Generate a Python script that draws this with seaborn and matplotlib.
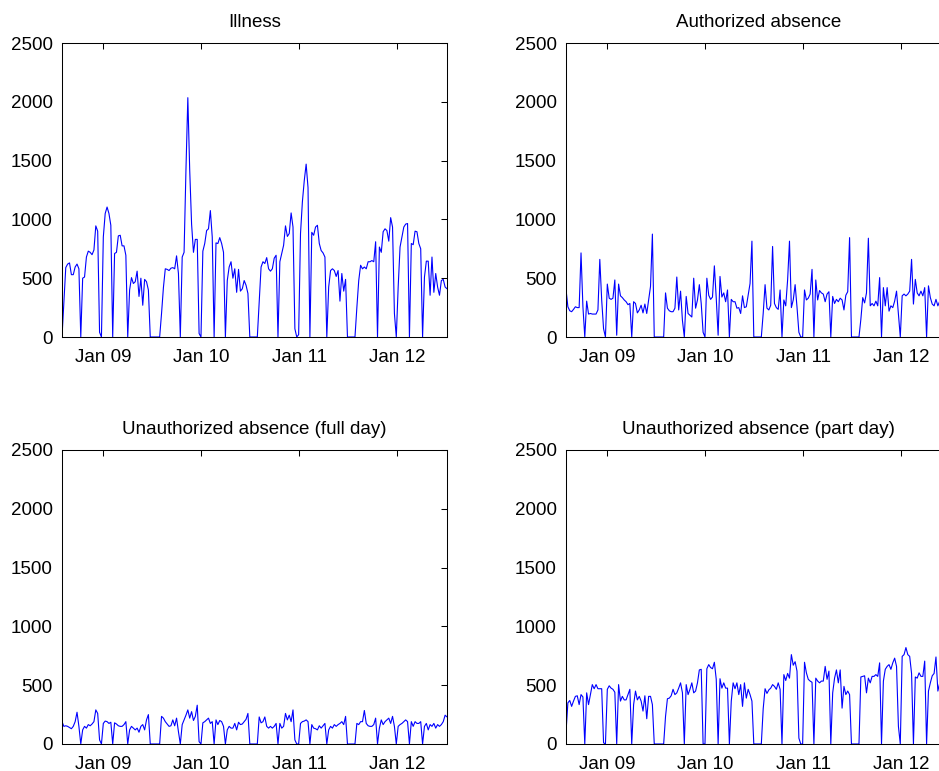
import matplotlib
matplotlib.use("Agg")
import matplotlib.pyplot as plt
import matplotlib.dates as mdates
import pandas as pd
import seaborn as sns

# ---------------- data (weekly totals) ----------------
start_date = "2008-07-31"
n_weeks = 206

titles = ["Illness", "Authorized absence",
          "Unauthorized absence (full day)", "Unauthorized absence (part day)"]
y_ticks = [0, 500, 1000, 1500, 2000, 2500]
x_tick_years = [2009, 2010, 2011, 2012]

illness = [
    0, 300, 590, 620, 630, 530, 530, 595, 620, 580, 0,
    500, 510, 680, 730, 720, 700, 740, 945, 900, 40, 0,
    850, 1050, 1105, 1050, 950, 0,
    710, 720, 860, 865, 775, 775, 695, 0,
    400, 505, 455, 470, 560, 345, 500, 270, 490, 470, 400, 0,
    0, 0, 0, 0, 0,
    200, 420, 580, 575, 565, 585, 590, 580, 690, 540, 0,
    680, 720, 1420, 2035, 1420, 960, 720, 830, 830, 30, 0,
    730, 795, 905, 920, 1075, 850, 0,
    800, 795, 845, 795, 720, 0,
    480, 595, 640, 500, 580, 380, 575, 390, 410, 480, 440, 370, 0,
    0, 0, 0, 0,
    300, 595, 640, 625, 675, 580, 560, 580, 670, 695, 0,
    640, 710, 780, 945, 855, 880, 1055, 935, 70, 0, 20,
    880, 1150, 1330, 1470, 1270, 0,
    890, 865, 935, 950, 795, 735, 715, 680, 0,
    425, 565, 580, 565, 515, 565, 305, 540, 390, 490, 0,
    0, 0, 0, 0,
    250, 480, 610, 580, 595, 580, 640, 640, 650, 640, 810, 0,
    765, 720, 895, 920, 905, 815, 1015, 935, 200, 0,
    425, 765, 850, 935, 960, 965, 0,
    795, 785, 900, 895, 795, 750, 0,
    510, 645, 645, 355, 680, 380, 540, 425, 355, 480, 490, 425, 410,
]

authorized = [
    405, 257, 223, 215, 235, 257, 250, 250, 715, 260, 0,
    305, 195, 200, 195, 195, 195, 230, 660, 315, 70, 0,
    450, 330, 320, 330, 485, 15,
    450, 350, 335, 315, 300, 275, 285, 0,
    300, 285, 205, 230, 270, 205, 280, 200, 315, 430, 875, 0,
    0, 0, 0, 0, 0,
    375, 245, 223, 215, 215, 245, 510, 230, 390, 140, 0,
    345, 200, 185, 170, 500, 245, 315, 445, 285, 40, 0,
    500, 355, 320, 340, 605, 330, 15,
    515, 340, 375, 300, 400, 0,
    320, 300, 300, 245, 250, 200, 350, 250, 257, 355, 455, 815, 0,
    0, 0, 0, 0,
    200, 445, 245, 230, 270, 770, 285, 250, 235, 400, 0,
    315, 265, 485, 815, 250, 315, 445, 255, 40, 0, 0,
    400, 315, 330, 365, 575, 0,
    485, 315, 395, 375, 365, 300, 365, 385, 0,
    345, 285, 320, 300, 330, 315, 230, 355, 385, 845, 0,
    0, 0, 0, 0,
    150, 335, 290, 375, 840, 265, 285, 265, 305, 265, 505, 0,
    420, 265, 420, 220, 265, 250, 305, 390, 200, 0,
    350, 365, 350, 365, 390, 660, 280,
    490, 375, 350, 390, 350, 420, 0,
    435, 335, 280, 265, 320, 265, 305, 300, 350, 300, 330, 290, 310,
]

unauth_full = [
    190, 150, 155, 150, 140, 130, 150, 190, 270, 150, 0,
    120, 150, 135, 165, 155, 170, 190, 290, 260, 35, 0,
    175, 195, 190, 175, 185, 0,
    180, 170, 155, 150, 150, 165, 190, 0,
    120, 150, 135, 120, 135, 100, 150, 165, 120, 205, 250, 0,
    0, 0, 0, 0, 0,
    235, 220, 190, 170, 150, 155, 205, 155, 220, 105, 0,
    165, 205, 245, 290, 220, 275, 200, 235, 330, 20, 0,
    180, 190, 205, 220, 175, 190, 0,
    205, 165, 200, 190, 150, 0,
    120, 150, 135, 135, 175, 120, 185, 165, 170, 190, 210, 260, 0,
    0, 0, 0, 0,
    230, 180, 190, 230, 150, 135, 150, 135, 150, 175, 0,
    175, 135, 150, 260, 205, 245, 190, 290, 35, 0, 0,
    175, 190, 195, 205, 190, 0,
    165, 135, 130, 120, 155, 135, 155, 175, 0,
    120, 150, 135, 165, 150, 165, 175, 190, 165, 235, 0,
    0, 0, 0, 0,
    175, 165, 190, 190, 285, 175, 155, 150, 150, 165, 220, 0,
    135, 205, 165, 190, 205, 220, 175, 235, 150, 0,
    150, 165, 175, 190, 205, 190, 0,
    190, 150, 190, 175, 175, 190, 0,
    150, 175, 120, 165, 150, 175, 135, 165, 150, 165, 190, 245, 230,
]

unauth_part = [
    100, 350, 370, 320, 365, 405, 410, 335, 420, 400, 0,
    435, 335, 420, 505, 470, 505, 470, 470, 470, 10, 0,
    465, 495, 475, 465, 440, 0,
    505, 365, 405, 375, 375, 420, 465, 0,
    335, 450, 375, 405, 365, 280, 410, 215, 405, 405, 335, 0,
    0, 0, 0, 0, 0,
    235, 385, 390, 410, 465, 420, 435, 475, 520, 435, 0,
    505, 420, 465, 520, 435, 450, 520, 630, 635, 0, 0,
    640, 675, 650, 640, 695, 550, 0,
    555, 475, 520, 475, 475, 0,
    365, 520, 470, 520, 420, 505, 320, 520, 390, 465, 420, 365, 0,
    0, 0, 0, 0,
    300, 470, 430, 460, 475, 505, 490, 465, 520, 465, 0,
    590, 540, 600, 560, 760, 670, 700, 620, 50, 0, 0,
    695, 605, 550, 535, 525, 0,
    560, 535, 520, 535, 535, 660, 550, 620, 0,
    435, 560, 630, 520, 630, 305, 490, 420, 450, 420, 0,
    0, 0, 0, 0,
    570, 575, 580, 435, 560, 520, 575, 575, 590, 575, 690, 0,
    535, 635, 660, 675, 635, 690, 730, 660, 150, 0,
    745, 760, 820, 760, 745, 600, 0,
    570, 560, 605, 575, 575, 705, 0,
    450, 520, 580, 600, 740, 450, 520, 560, 480, 600, 540, 470, 500,
]

series = [illness, authorized, unauth_full, unauth_part]

# ---------------- figure ----------------
sns.set_theme(style="white")
plt.rcParams["font.family"] = ["Liberation Sans", "DejaVu Sans"]

W, H = 939, 771
fig = plt.figure(figsize=(W / 100, H / 100), dpi=100)

ax_w, ax_h = 385, 294
corners = [(62, 43), (566, 43), (62, 450), (566, 450)]

dates = pd.date_range(start_date, periods=n_weeks, freq="7D")

for title, vals, (lx, ty) in zip(titles, series, corners):
    ax = fig.add_axes([lx / W, 1 - (ty + ax_h) / H, ax_w / W, ax_h / H])
    df = pd.DataFrame({"date": dates, "value": vals})
    sns.lineplot(data=df, x="date", y="value", ax=ax, color="#0000ff",
                 linewidth=0.8, estimator=None)
    ax.set_xlim(dates[0], dates[-1])
    ax.set_ylim(0, 2500)
    ax.set_yticks(y_ticks)
    ax.set_xticks([pd.Timestamp(f"{y}-01-01") for y in x_tick_years])
    ax.xaxis.set_major_formatter(mdates.DateFormatter("%b %y"))
    ax.set_xlabel("")
    ax.set_ylabel("")
    ax.tick_params(direction="in", top=True, right=True, length=4, width=0.75,
                   labelsize=13.5, colors="black")
    ax.tick_params(axis="y", pad=6.5)
    ax.tick_params(axis="x", pad=8.5)
    for s in ax.spines.values():
        s.set_color("black")
        s.set_linewidth(0.75)
    ax.set_title(title, fontsize=13.5, pad=11.5, color="black")

fig.savefig("out.png", dpi=100)
